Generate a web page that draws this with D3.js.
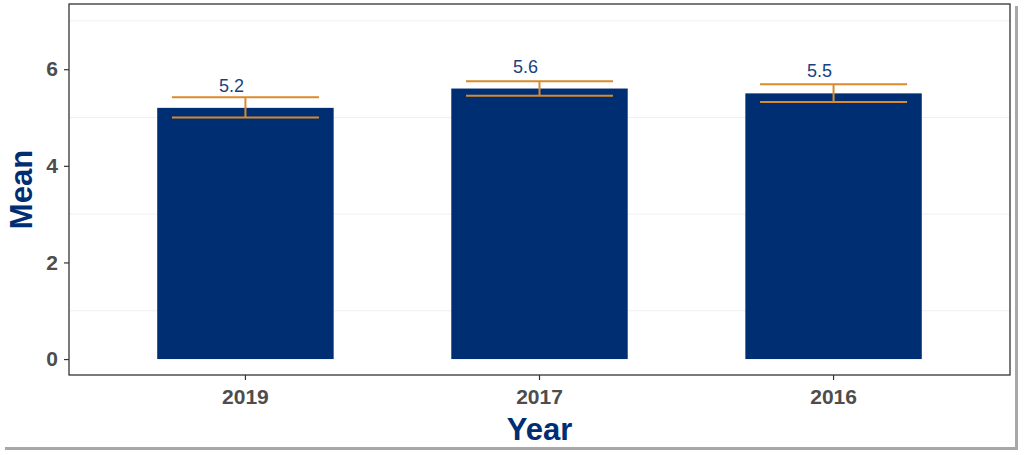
<!DOCTYPE html>
<html>
<head>
<meta charset="utf-8">
<script src="https://cdn.jsdelivr.net/npm/d3@7"></script>
<style>
  body { margin: 0; background: #fff; }
  svg { display: block; font-family: "Liberation Sans", Arial, sans-serif; }
</style>
</head>
<body>
<svg id="chart" width="1024" height="455"></svg>
<script>
// values
const years = ['2019', '2017', '2016']
const means = [5.2, 5.6, 5.5]
const errLow = [5.0, 5.45, 5.32]
const errHigh = [5.42, 5.75, 5.69]
const yTicks = [0, 2, 4, 6]
const yMinor = [1, 3, 5, 7]

const navy = '#002e73'
const orange = '#d98a2b'
const ink = '#4d4d4d'

const svg = d3.select('#chart')

// screenshot frame shadow
svg.append('rect').attr('x', 1015).attr('y', 6).attr('width', 3).attr('height', 444).attr('fill', '#a8a8a8')
svg.append('rect').attr('x', 5).attr('y', 447).attr('width', 1013).attr('height', 3).attr('fill', '#a8a8a8')

const panel = { left: 69, right: 1010, top: 4, bottom: 375 }

// ggplot style discrete expansion: 0.6 of a step each side of the outer centres
const x = d3.scaleBand()
    .domain(years)
    .range([panel.left, panel.right])
    .paddingOuter(0.1)
    .paddingInner(0)

const y = d3.scaleLinear()
    .domain([-0.33, 7.35])
    .range([panel.bottom, panel.top])

const barW = x.bandwidth() * 0.6
const errW = x.bandwidth() * 0.5
const cx = d => x(d.year) + x.bandwidth() / 2

const g = svg.append('g')

g.selectAll('.minor')
    .data(yMinor)
    .enter()
    .append('line')
    .attr('x1', panel.left).attr('x2', panel.right)
    .attr('y1', d => y(d)).attr('y2', d => y(d))
    .attr('stroke', '#efefef')
    .attr('stroke-width', 1)

const data = years.map((yr, i) => ({ year: yr, mean: means[i], lo: errLow[i], hi: errHigh[i] }))

g.selectAll('.bar')
    .data(data)
    .enter()
    .append('rect')
    .attr('x', d => cx(d) - barW / 2)
    .attr('width', barW)
    .attr('y', d => y(d.mean))
    .attr('height', d => y(0) - y(d.mean))
    .attr('fill', navy)

const err = g.selectAll('.err')
    .data(data)
    .enter()
    .append('g')
    .attr('stroke', orange)
    .attr('stroke-width', 2)
err.append('line')
    .attr('x1', cx).attr('x2', cx)
    .attr('y1', d => y(d.lo)).attr('y2', d => y(d.hi))
err.append('line')
    .attr('x1', d => cx(d) - errW / 2).attr('x2', d => cx(d) + errW / 2)
    .attr('y1', d => y(d.hi)).attr('y2', d => y(d.hi))
err.append('line')
    .attr('x1', d => cx(d) - errW / 2).attr('x2', d => cx(d) + errW / 2)
    .attr('y1', d => y(d.lo)).attr('y2', d => y(d.lo))

g.selectAll('.lbl')
    .data(data)
    .enter()
    .append('text')
    .attr('x', d => cx(d) - 14)
    .attr('y', d => y(d.mean) - 16)
    .attr('text-anchor', 'middle')
    .attr('fill', '#1c3f80')
    .attr('font-size', 18)
    .text(d => d3.format('.1f')(d.mean))

// panel border
svg.append('rect')
    .attr('x', panel.left).attr('y', panel.top)
    .attr('width', panel.right - panel.left).attr('height', panel.bottom - panel.top)
    .attr('fill', 'none')
    .attr('stroke', '#333')
    .attr('stroke-width', 1.3)

const yAxis = svg.append('g')
    .attr('transform', `translate(${panel.left},0)`)
    .call(d3.axisLeft(y).tickValues(yTicks).tickSize(5).tickPadding(6).tickFormat(d3.format('d')))
yAxis.select('.domain').remove()
yAxis.selectAll('line').attr('stroke', '#333').attr('stroke-width', 1.2)
yAxis.selectAll('text').attr('fill', ink).attr('font-size', 21).attr('font-weight', 'bold')
    .attr('font-family', '"Liberation Sans", Arial, sans-serif')

const xAxis = svg.append('g')
    .attr('transform', `translate(0,${panel.bottom})`)
    .call(d3.axisBottom(x).tickSize(5).tickPadding(9))
xAxis.select('.domain').remove()
xAxis.selectAll('line').attr('stroke', '#333').attr('stroke-width', 1.2)
xAxis.selectAll('text').attr('fill', ink).attr('font-size', 21).attr('font-weight', 'bold')
    .attr('font-family', '"Liberation Sans", Arial, sans-serif')

svg.append('text')
    .attr('x', (panel.left + panel.right) / 2)
    .attr('y', 440)
    .attr('text-anchor', 'middle')
    .attr('fill', navy)
    .attr('font-size', 31)
    .attr('font-weight', 'bold')
    .text('Year')

svg.append('text')
    .attr('transform', `translate(32,${(panel.top + panel.bottom) / 2}) rotate(-90)`)
    .attr('text-anchor', 'middle')
    .attr('fill', navy)
    .attr('font-size', 31)
    .attr('font-weight', 'bold')
    .text('Mean')
</script>
</body>
</html>
